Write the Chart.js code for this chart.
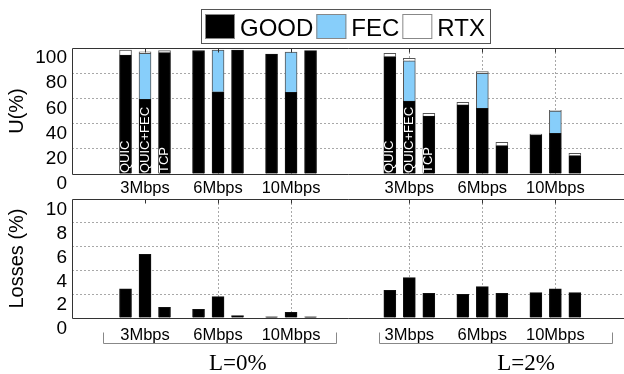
<!DOCTYPE html>
<html>
<head>
<meta charset="utf-8">
<title>Utilisation and losses</title>
<script src="https://cdn.jsdelivr.net/npm/chart.js@4/dist/chart.umd.min.js"></script>
<style>
  html, body { margin: 0; padding: 0; background: #fff; overflow: hidden; width: 624px; height: 374px; }
  canvas { position: absolute; left: 0; }
  #util { top: 0; }
  #loss { top: 179px; }
</style>
</head>
<body>
<canvas id="util" width="624" height="199"></canvas>
<canvas id="loss" width="624" height="195"></canvas>
<script>
// ---- data -------------------------------------------------------------
const lossRates = ['L=0%', 'L=2%'];
const rates = ['3Mbps', '6Mbps', '10Mbps'];
const protocols = ['QUIC', 'QUIC+FEC', 'TCP'];
const seriesNames = ['GOOD', 'FEC', 'RTX'];

// Link utilisation (%) split in goodput / FEC / retransmissions.
// Bar order: loss rate, then bandwidth, then protocol.
const good = [94.4, 59.3, 96.3,  98.0, 65.3, 98.4,  95.2, 64.8, 97.9,
              93.1, 57.9, 46.0,  54.8, 52.1, 22.5,  31.0, 32.3, 14.6];
const fec  = [0, 36.5, 0,  0, 33.0, 0,  0, 32.0, 0,
              0, 32.0, 0,  0, 27.8, 0,  0, 17.7, 0];
const rtx  = [4.0, 1.2, 1.6,  0, 0, 0,  0, 0, 0,
              2.7, 1.9, 2.1,  2.1, 1.3, 2.6,  0.7, 0.5, 1.8];
// Packet losses (%)
const losses = [2.46, 5.35, 0.90,  0.73, 1.79, 0.20,  0.10, 0.48, 0.10,
                2.32, 3.39, 2.07,  1.99, 2.63, 2.07,  2.13, 2.46, 2.13];

const utilTicks = [0, 20, 40, 60, 80, 100];
const lossTicks = [0, 2, 4, 6, 8, 10];

// ---- layout -------------------------------------------------------------
const GROUP_X = [1, 2, 3, 4.62, 5.62, 6.62];   // centre of each bandwidth group
const BAR_STEP = 0.267;                         // distance between bars in a group
const X_MAX = 7.56;
const BRACKETS = [{ from: 0.42, to: 3.62, label: 2.27 },
                  { from: 4.20, to: 7.40, label: 6.22 }];
const LEGEND_CENTER = 345.5;

const FONT = '"Liberation Sans", Arial, Helvetica, sans-serif';
const SERIF = '"Liberation Serif", "Times New Roman", serif';
const GRID = '#a8a8a8';
const DOTS = [2, 2];
const COLORS = { GOOD: '#000000', FEC: '#87cefa', RTX: '#ffffff' };

const barX = [];
GROUP_X.forEach(g => protocols.forEach((_, p) => barX.push(g + (p - 1) * BAR_STEP)));
const points = vals => vals.map((v, i) => ({ x: barX[i], y: v > 0 ? v : null }));

// ---- plugins ------------------------------------------------------------
// box around the plot (left, top, bottom) plus short ticks at the group centres
const framePlugin = {
  id: 'frame',
  afterDatasetsDraw(chart) {
    const { ctx, chartArea: a, scales: { x } } = chart;
    const t = Math.round(a.top) + 0.5, b = Math.round(a.bottom) + 0.5, l = Math.round(a.left) + 0.5;
    ctx.save();
    ctx.strokeStyle = '#333';
    ctx.lineWidth = 1;
    ctx.beginPath();
    ctx.moveTo(a.right + 2, t); ctx.lineTo(l, t); ctx.lineTo(l, b); ctx.lineTo(a.right + 2, b);
    GROUP_X.forEach(g => {
      const px = Math.round(x.getPixelForValue(g)) + 0.5;
      ctx.moveTo(px, t); ctx.lineTo(px, t + 4);
    });
    ctx.stroke();
    ctx.restore();
  }
};

// protocol names written up the bars of the first bandwidth group
const protoLabelPlugin = {
  id: 'protoLabels',
  afterDatasetsDraw(chart) {
    const { ctx, scales: { x, y } } = chart;
    const base = y.getPixelForValue(0);
    ctx.save();
    ctx.fillStyle = '#fff';
    ctx.font = '13px ' + FONT;
    ctx.textAlign = 'left';
    ctx.textBaseline = 'middle';
    lossRates.forEach((_, li) => protocols.forEach((name, p) => {
      const i = li * rates.length * protocols.length + p;
      ctx.save();
      ctx.translate(x.getPixelForValue(barX[i]), base - 1);
      ctx.rotate(-Math.PI / 2);
      ctx.fillText(name, 0, 0);
      ctx.restore();
    }));
    ctx.restore();
  }
};

// framed legend with wide colour swatches
const boxLegendPlugin = {
  id: 'boxLegend',
  afterDraw(chart) {
    const ctx = chart.ctx;
    const sets = chart.data.datasets;
    const sqW = 30, sqH = 25, padL = 4, padR = 5, gapText = 5, gapItem = 3;
    ctx.save();
    ctx.font = '24px ' + FONT;
    const widths = sets.map(d => ctx.measureText(d.label).width);
    let w = padL + padR;
    widths.forEach((tw, i) => { w += sqW + gapText + tw + (i < widths.length - 1 ? gapItem : 0); });
    w = Math.round(w);
    const left = Math.round(LEGEND_CENTER - w / 2), top = 9, h = 34;
    ctx.fillStyle = '#fff';
    ctx.fillRect(left, top, w, h);
    ctx.strokeStyle = '#555';
    ctx.lineWidth = 1;
    ctx.strokeRect(left + 0.5, top + 0.5, w, h);
    let cx = left + padL;
    sets.forEach((d, i) => {
      ctx.fillStyle = d.backgroundColor;
      ctx.fillRect(cx, top + 5, sqW, sqH);
      ctx.strokeStyle = '#888';
      ctx.strokeRect(cx + 0.5, top + 5.5, sqW - 1, sqH - 1);
      cx += sqW + gapText;
      ctx.fillStyle = '#000';
      ctx.textBaseline = 'alphabetic';
      ctx.textAlign = 'left';
      ctx.fillText(d.label, cx, top + 27);
      cx += widths[i] + gapItem;
    });
    ctx.restore();
  }
};

// brackets grouping the bandwidths of each loss rate
const bracketPlugin = {
  id: 'lossBrackets',
  afterDraw(chart) {
    const { ctx, chartArea: a, scales: { x } } = chart;
    const yLine = Math.round(a.bottom + 25) + 0.5;
    ctx.save();
    ctx.strokeStyle = '#888';
    ctx.lineWidth = 1;
    ctx.fillStyle = '#000';
    ctx.font = '23px ' + SERIF;
    ctx.textAlign = 'center';
    ctx.textBaseline = 'alphabetic';
    BRACKETS.forEach((b, i) => {
      const x0 = Math.round(x.getPixelForValue(b.from)) + 0.5;
      const x1 = Math.round(x.getPixelForValue(b.to)) + 0.5;
      ctx.beginPath();
      ctx.moveTo(x0, yLine - 11); ctx.lineTo(x0, yLine); ctx.lineTo(x1, yLine); ctx.lineTo(x1, yLine - 11);
      ctx.stroke();
      ctx.fillText(lossRates[i], x.getPixelForValue(b.label), a.bottom + 52);
    });
    ctx.restore();
  }
};

// ---- shared axis builders --------------------------------------------------
function xAxis(padding, height) {
  return {
    type: 'linear', min: 0, max: X_MAX, stacked: true, offset: false,
    afterBuildTicks: s => { s.ticks = GROUP_X.map(v => ({ value: v })); },
    afterFit: s => { s.height = height; },
    ticks: {
      callback: (v, i) => rates[i % rates.length],
      autoSkip: false, maxRotation: 0, minRotation: 0,
      color: '#000', padding, font: { family: FONT, size: 16.5 }
    },
    grid: { offset: false, drawTicks: false, lineWidth: 1,
            color: c => c.index === 0 ? 'rgba(0,0,0,0)' : GRID },
    border: { display: false, dash: DOTS }
  };
}
function yAxis(ticks, title, labelOffset) {
  const lo = ticks[0], hi = ticks[ticks.length - 1];
  return {
    min: lo, max: hi, stacked: true,
    afterBuildTicks: s => { s.ticks = ticks.map(v => ({ value: v })); },
    afterFit: s => { s.width = 72; },
    ticks: { color: '#000', padding: 5, labelOffset, autoSkip: false,
             font: { family: FONT, size: 19 } },
    grid: { drawTicks: false, lineWidth: 1,
            color: c => (c.tick && (c.tick.value === lo || c.tick.value === hi)) ? 'rgba(0,0,0,0)' : GRID },
    border: { display: false, dash: DOTS },
    title: { display: true, text: title, color: '#000', padding: { top: 5, bottom: 0 },
             font: { family: FONT, size: 20 } }
  };
}
const common = {
  responsive: false, animation: false, devicePixelRatio: 1,
  plugins: { legend: { display: false }, tooltip: { enabled: false } }
};

// ---- utilisation chart --------------------------------------------------------
const seriesValues = [good, fec, rtx];
new Chart(document.getElementById('util'), {
  type: 'bar',
  data: {
    datasets: seriesNames.map((name, k) => ({
      label: name,
      data: points(seriesValues[k]),
      backgroundColor: COLORS[name],
      borderColor: name === 'GOOD' ? '#111' : '#555',
      borderWidth: 1,
      barThickness: 12
    }))
  },
  options: Object.assign({}, common, {
    layout: { padding: { top: 48, left: 0, right: 0, bottom: 0 } },
    scales: { x: xAxis(5, 25), y: yAxis(utilTicks, 'U(%)', 10) }
  }),
  plugins: [framePlugin, protoLabelPlugin, boxLegendPlugin]
});

// ---- losses chart ---------------------------------------------------------------
new Chart(document.getElementById('loss'), {
  type: 'bar',
  data: {
    datasets: [{
      label: 'Losses',
      data: points(losses),
      backgroundColor: '#000',
      borderColor: '#111',
      borderWidth: 1,
      barThickness: 12
    }]
  },
  options: Object.assign({}, common, {
    layout: { padding: { top: 20, left: 0, right: 0, bottom: 0 } },
    scales: { x: xAxis(7.5, 56), y: yAxis(lossTicks, 'Losses (%)', 11) }
  }),
  plugins: [framePlugin, bracketPlugin]
});
</script>
</body>
</html>
